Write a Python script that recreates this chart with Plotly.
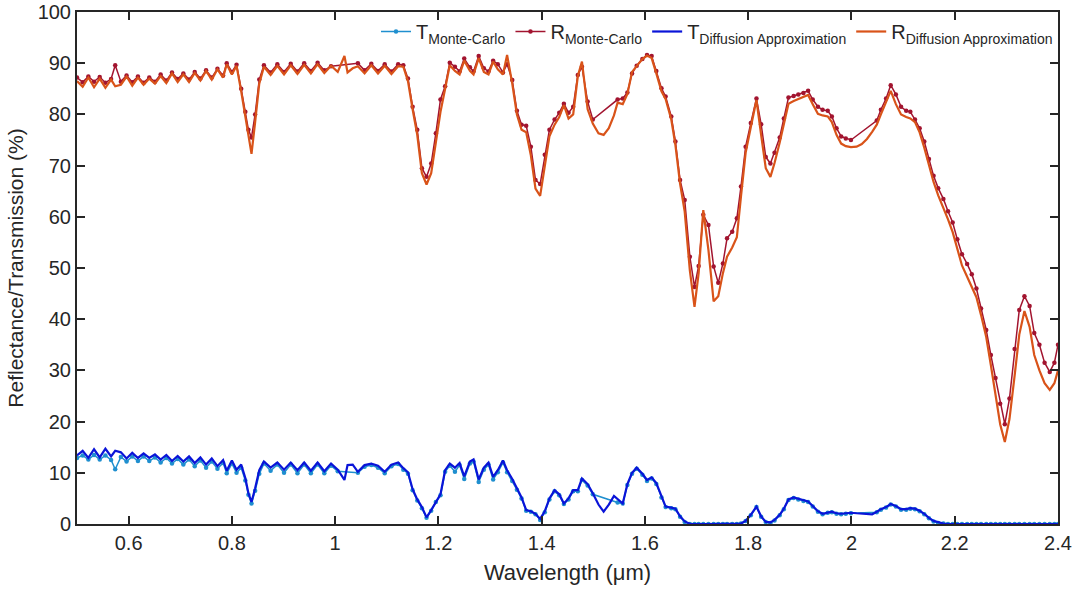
import plotly.graph_objects as go

# ---------------- data ----------------
wavelength = [
    0.500, 0.511, 0.522, 0.533, 0.544, 0.555, 0.566, 0.574, 0.585, 0.596,
    0.607, 0.618, 0.629, 0.640, 0.651, 0.662, 0.673, 0.684, 0.695, 0.706,
    0.717, 0.728, 0.739, 0.750, 0.761, 0.772, 0.783, 0.790, 0.800, 0.809,
    0.818, 0.826, 0.832, 0.838, 0.845, 0.853,
    0.862, 0.875, 0.888, 0.901, 0.914, 0.927, 0.940, 0.953, 0.966, 0.979,
    0.992, 1.005, 1.018, 1.024, 1.034, 1.044, 1.057, 1.070, 1.083, 1.096,
    1.109, 1.122, 1.132,
    1.141, 1.150, 1.159, 1.168, 1.177, 1.186, 1.195, 1.204, 1.213,
    1.222, 1.232, 1.241, 1.250, 1.261, 1.268, 1.278, 1.288, 1.297, 1.306,
    1.315, 1.325, 1.333, 1.343,
    1.352, 1.361, 1.370, 1.379, 1.388, 1.397, 1.406, 1.415, 1.425, 1.434,
    1.443, 1.452, 1.461, 1.470, 1.478, 1.489, 1.499, 1.510, 1.520, 1.530,
    1.540, 1.547, 1.557, 1.566, 1.575, 1.584, 1.595, 1.604, 1.613, 1.622,
    1.632, 1.640, 1.651, 1.659, 1.668, 1.677, 1.687, 1.696, 1.704, 1.713,
    1.723, 1.733, 1.742, 1.751, 1.759, 1.769, 1.778, 1.786, 1.795, 1.805,
    1.816, 1.825, 1.834, 1.843, 1.851, 1.861, 1.869, 1.878, 1.888, 1.897,
    1.907, 1.916, 1.925, 1.935, 1.944, 1.954, 1.962, 1.971, 1.980, 1.989,
    1.999, 2.010, 2.020, 2.030, 2.040, 2.049, 2.057, 2.067, 2.076, 2.086,
    2.096, 2.106, 2.114, 2.123, 2.132, 2.141, 2.150, 2.159, 2.168, 2.178,
    2.187, 2.196, 2.205, 2.214, 2.224, 2.233, 2.242, 2.251, 2.261, 2.270,
    2.279, 2.288, 2.297, 2.306, 2.316, 2.325, 2.335, 2.345, 2.354, 2.364,
    2.374, 2.384, 2.393, 2.400,
]

R_monte_carlo = [
    87.2, 86.3, 87.4, 86.4, 87.3, 86.2, 86.9, 89.6, 86.4, 87.6,
    86.3, 87.4, 86.2, 87.2, 86.4, 87.8, 86.6, 88.2, 86.9, 88.0,
    86.8, 88.3, 87.0, 88.6, 87.2, 88.9, 87.6, 90.0, 88.3, 89.7,
    85.0, 80.5, 77.0, 75.5, 80.0, 86.8,
    89.6, 88.2, 89.8, 88.3, 89.9, 88.4, 90.0, 88.5, 90.1, 88.6,
    89.4, None, None, None, None, 90.0, 88.6, 89.9, 88.5, 89.8,
    88.4, 89.8, 89.6,
    87.0, 81.5, 77.0, 69.5, 67.8, 70.4, 76.3, 82.9, 85.5,
    90.1, 89.3, 88.4, 90.9, 89.2, 88.4, 91.4, 89.0, 88.4, 90.5,
    89.8, 88.2, 89.8, 86.7,
    80.7, 78.0, 77.8, 73.7, 67.2, 66.4, 72.1, 77.0, 79.0, 80.3,
    82.1, 80.3, 81.5, 87.7, 89.3, 82.5, 79.0, None, None, None,
    None, 82.9, 83.1, 84.3, 88.0, 89.5, 90.8, 91.6, 91.4, 88.5,
    85.1, 83.5, 79.6, 74.7, 67.2, 63.3, 52.2, 46.3, 50.4, 60.4,
    58.4, 50.3, 47.1, 50.9, 55.8, 57.1, 59.7, 65.9, 73.7, 78.3,
    83.1, 78.1, 71.7, 70.4, 72.5, 75.5, 79.2, 83.3, 83.6, 83.9,
    84.2, 84.6, 82.9, 81.5, 80.9, 80.7, 79.6, 77.3, 75.7, 75.3,
    75.0, None, None, None, None, 78.8, 80.9, 83.1, 85.7, 83.9,
    81.5, 80.7, 80.5, 79.0, 77.3, 74.7, 71.3, 68.0, 65.6, 63.5,
    61.1, 58.9, 55.6, 52.7, 50.8, 48.8, 46.0, 42.1, 37.9, 33.0,
    28.5, 23.5, 19.5, 24.5, 34.2, 41.8, 44.5, 42.6, 37.3, 35.0,
    31.5, 29.7, 31.5, 35.0,
]

R_diffusion = [
    86.5, 85.4, 87.2, 85.3, 87.0, 85.2, 86.8, 85.5, 85.8, 87.4,
    85.6, 87.2, 85.8, 87.0, 86.0, 87.5, 86.1, 88.0, 86.3, 87.8,
    86.3, 88.1, 86.6, 88.5, 86.8, 88.8, 87.2, 89.8, 87.8, 89.5,
    84.5, 79.5, 75.5, 72.3, 78.5, 86.0,
    89.3, 87.7, 89.5, 87.8, 89.6, 87.9, 89.7, 88.0, 89.8, 88.1,
    89.5, 88.3, 91.4, 88.2, 89.0, 89.4, 88.0, 89.6, 88.0, 89.5,
    87.9, 89.4, 89.3,
    86.5, 81.0, 76.0, 68.5, 66.3, 68.5, 74.5, 80.5, 85.0,
    89.6, 88.5, 87.8, 90.5, 88.5, 87.8, 91.0, 88.3, 87.8, 90.3,
    88.8, 87.8, 91.6, 86.0,
    80.0, 77.0, 76.5, 72.0, 65.5, 64.1, 70.0, 75.7, 78.0, 79.5,
    81.8, 79.2, 80.0, 87.5, 90.3, 81.0, 78.2, 76.3, 76.0, 77.3,
    79.8, 82.3, 82.0, 84.0, 88.3, 89.5, 90.8, 91.5, 91.0, 88.0,
    84.5, 83.0, 79.0, 74.0, 66.5, 61.0, 49.5, 42.4, 49.0, 61.3,
    53.5, 43.5, 44.5, 49.0, 52.2, 54.0, 56.0, 64.0, 72.5, 77.5,
    82.8, 76.0, 69.5, 67.8, 70.5, 74.5, 78.0, 82.1, 82.6, 83.0,
    83.4, 83.8, 82.0, 80.1, 79.8, 79.6, 78.5, 76.0, 74.3, 73.8,
    73.6, 73.7, 74.2, 75.2, 76.6, 78.0, 80.0, 82.5, 84.6, 82.0,
    80.0, 79.5, 79.2, 78.5, 76.5, 73.5, 70.0, 66.8, 64.2, 61.8,
    59.5, 57.0, 53.8, 50.5, 48.3, 46.3, 44.3, 40.8, 36.5, 31.0,
    25.5, 19.5, 16.0, 20.5, 29.0, 37.0, 41.6, 38.5, 33.0, 30.0,
    27.5, 26.2, 27.5, 30.0,
]

T_monte_carlo = [
    12.9, 13.4, 12.6, 13.5, 12.6, 13.4, 12.5, 10.7, 13.1, 12.2,
    13.2, 12.3, 13.2, 12.3, 13.0, 12.0, 12.9, 11.8, 12.7, 11.6,
    12.6, 11.3, 12.4, 11.0, 12.2, 10.8, 11.9, 9.9, 11.8, 10.0,
    11.0, 8.5, 5.7, 4.0, 6.5, 9.8,
    11.8, 10.4, 11.6, 10.0, 11.6, 9.9, 11.6, 9.9, 11.6, 9.9,
    11.4, 10.3, None, None, None, 10.0, 11.2, 11.5, 11.0, 9.9,
    11.3, 11.7, 10.6,
    9.8, 6.6, 4.6, 3.1, 1.2, 2.6, 4.3, 5.6, 10.2,
    11.4, 10.2, 11.5, 8.8, 11.8, 12.2, 8.2, 10.6, 11.6, 8.7,
    10.1, 12.0, 10.1, 8.4,
    6.7, 5.0, 2.6, 2.4, 1.9, 0.8, 2.3, 4.8, 6.4, 5.6,
    3.9, 4.8, 6.4, 6.4, 8.6, 7.5, 5.8, None, None, None,
    None, 4.2, 4.0, 7.6, 9.8, 10.8, 9.6, 8.4, 8.9, 7.8,
    5.2, 3.3, 3.1, 2.9, 1.4, 0.4, 0.0, 0.0, 0.0, 0.0,
    0.0, 0.0, 0.0, 0.0, 0.0, 0.0, 0.0, 0.1, 0.6, 1.7,
    3.3, 1.4, 0.4, 0.2, 0.7, 1.7, 2.9, 4.7, 5.1, 4.8,
    4.5, 4.3, 3.4, 2.4, 1.9, 2.2, 2.3, 2.0, 1.9, 2.0,
    2.1, None, None, None, None, 2.3, 2.8, 3.2, 3.8, 3.4,
    2.8, 2.8, 3.0, 2.9, 2.5, 1.9, 1.1, 0.5, 0.2, 0.1,
    0.0, 0.0, 0.0, 0.0, 0.0, 0.0, 0.0, 0.0, 0.0, 0.0,
    0.0, 0.0, 0.0, 0.0, 0.0, 0.0, 0.0, 0.0, 0.0, 0.0,
    0.0, 0.0, 0.0, 0.0,
]

T_diffusion = [
    13.4, 14.3, 12.9, 14.6, 13.0, 14.7, 13.2, 14.3, 14.0, 12.8,
    13.9, 12.9, 13.8, 12.9, 13.6, 12.6, 13.5, 12.3, 13.3, 12.2,
    13.2, 11.9, 13.0, 11.6, 12.8, 11.3, 12.5, 10.4, 12.4, 10.6,
    11.6, 9.0, 6.0, 4.3, 7.0, 10.5,
    12.2, 11.0, 12.0, 10.6, 12.0, 10.5, 12.0, 10.4, 12.0, 10.3,
    11.8, 10.6, 8.6, 11.5, 11.6, 10.2, 11.5, 11.8, 11.4, 10.2,
    11.6, 12.0, 10.9,
    10.1, 6.8, 4.8, 3.3, 1.3, 2.7, 4.4, 5.8, 10.5,
    11.8, 11.0, 11.9, 9.3, 12.2, 12.6, 8.7, 11.0, 12.0, 9.2,
    10.5, 12.4, 10.5, 8.8,
    7.0, 5.2, 2.7, 2.5, 2.0, 1.0, 2.5, 5.0, 6.6, 5.8,
    4.0, 5.0, 6.6, 6.6, 8.9, 7.8, 6.0, 3.8, 2.4, 3.8,
    5.5, 4.8, 4.0, 7.8, 10.0, 11.0, 9.8, 8.6, 9.1, 8.0,
    5.3, 3.4, 3.2, 3.0, 1.5, 0.5, 0.05, 0.0, 0.0, 0.0,
    0.0, 0.0, 0.0, 0.0, 0.0, 0.0, 0.0, 0.1, 0.6, 1.8,
    3.4, 1.5, 0.4, 0.3, 0.8, 1.8, 3.0, 4.8, 5.2, 4.9,
    4.6, 4.4, 3.5, 2.5, 2.0, 2.3, 2.4, 2.1, 2.0, 2.1,
    2.2, 2.1, 2.0, 1.9, 1.9, 2.4, 2.9, 3.3, 3.9, 3.5,
    2.9, 2.9, 3.1, 3.0, 2.6, 2.0, 1.2, 0.6, 0.3, 0.1,
    0.0, 0.0, 0.0, 0.0, 0.0, 0.0, 0.0, 0.0, 0.0, 0.0,
    0.0, 0.0, 0.0, 0.0, 0.0, 0.0, 0.0, 0.0, 0.0, 0.0,
    0.0, 0.0, 0.0, 0.0,
]

x_tick_values = [0.6, 0.8, 1.0, 1.2, 1.4, 1.6, 1.8, 2.0, 2.2, 2.4]
x_tick_labels = ["0.6", "0.8", "1", "1.2", "1.4", "1.6", "1.8", "2", "2.2", "2.4"]
y_tick_values = [0, 10, 20, 30, 40, 50, 60, 70, 80, 90, 100]

# ---------------- figure ----------------
fig = go.Figure()

fig.add_trace(go.Scatter(
    x=wavelength, y=T_monte_carlo, mode="lines+markers", connectgaps=True,
    name="T<sub>Monte-Carlo</sub>",
    line=dict(color="#1f8fcf", width=1.5),
    marker=dict(color="#1f8fcf", size=4.5),
))
fig.add_trace(go.Scatter(
    x=wavelength, y=R_monte_carlo, mode="lines+markers", connectgaps=True,
    name="R<sub>Monte-Carlo</sub>",
    line=dict(color="#A2142F", width=1.5),
    marker=dict(color="#A2142F", size=4.5),
))
fig.add_trace(go.Scatter(
    x=wavelength, y=T_diffusion, mode="lines",
    name="T<sub>Diffusion Approximation</sub>",
    line=dict(color="#0a14d8", width=2.2),
))
fig.add_trace(go.Scatter(
    x=wavelength, y=R_diffusion, mode="lines",
    name="R<sub>Diffusion Approximation</sub>",
    line=dict(color="#D95319", width=2.2),
))

axis_color = "#262626"
fig.update_layout(
    width=1078, height=590,
    margin=dict(l=77, r=20, t=12, b=66, autoexpand=False),
    plot_bgcolor="white", paper_bgcolor="white",
    font=dict(family="Liberation Sans, Arial, sans-serif", size=20, color=axis_color),
    showlegend=True,
    legend=dict(
        orientation="h", x=1.0, xanchor="right", y=1.0, yanchor="top",
        bgcolor="rgba(0,0,0,0)", font=dict(size=20, color=axis_color),
        itemwidth=30, tracegroupgap=0,
    ),
    xaxis=dict(
        range=[0.5, 2.4], tickvals=x_tick_values, ticktext=x_tick_labels,
        ticks="inside", ticklen=8, tickwidth=1.5, tickcolor=axis_color,
        showline=True, linecolor=axis_color, linewidth=2, mirror="ticks",
        showgrid=False, zeroline=False, automargin=False,
        title=dict(text="Wavelength (μm)", font=dict(size=22), standoff=12),
    ),
    yaxis=dict(
        range=[0, 100], tickvals=y_tick_values,
        ticks="inside", ticklen=8, tickwidth=1.5, tickcolor=axis_color,
        showline=True, linecolor=axis_color, linewidth=2, mirror="ticks",
        showgrid=False, zeroline=False, automargin=False,
        title=dict(text="Reflectance/Transmission (%)", font=dict(size=21), standoff=8),
    ),
)

fig.write_html("out.html")
